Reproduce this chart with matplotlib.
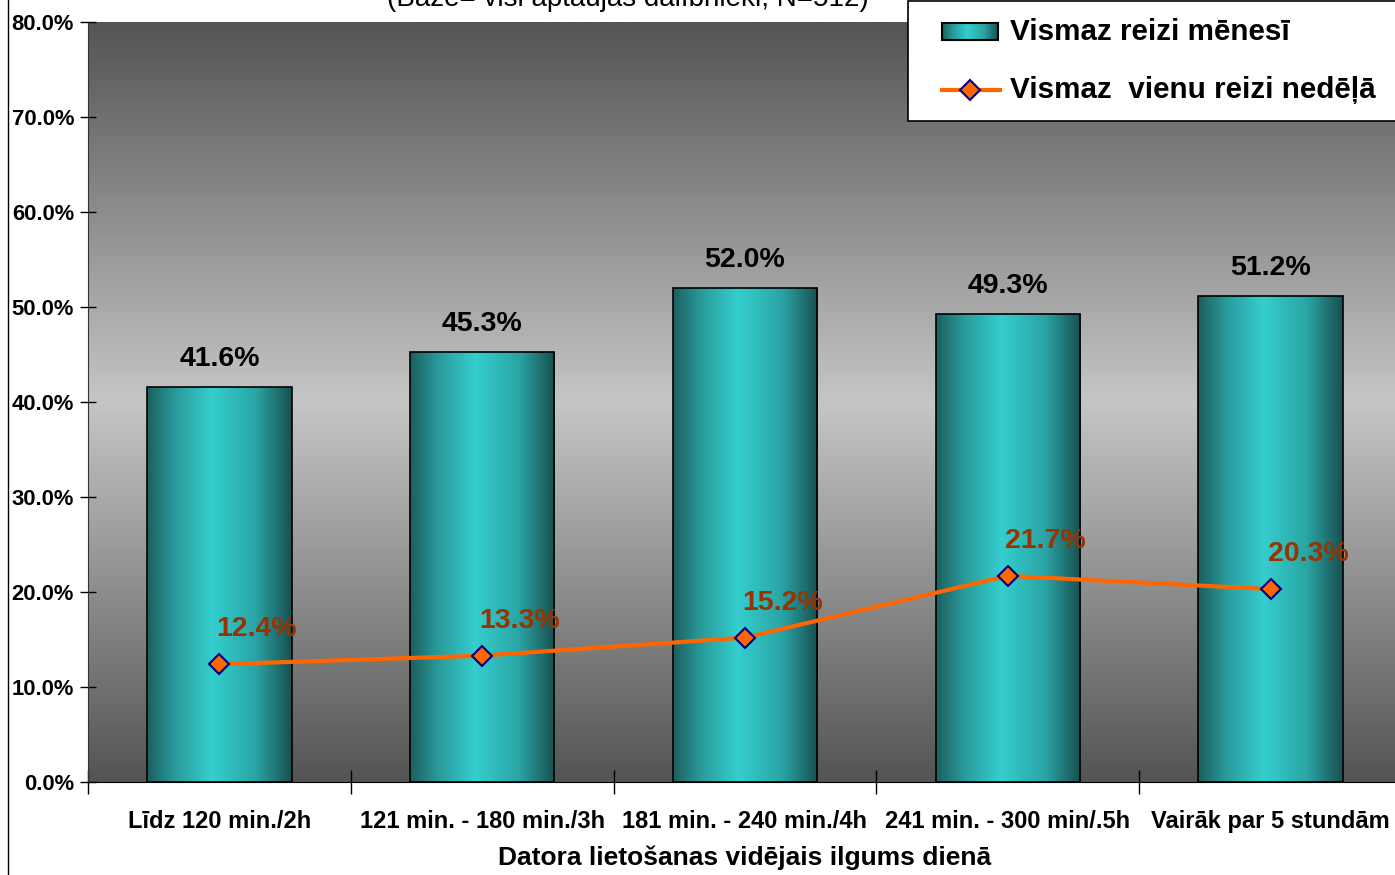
import numpy as np
import matplotlib
matplotlib.use("Agg")
import matplotlib.pyplot as plt
from matplotlib.colors import LinearSegmentedColormap
from matplotlib.patches import Rectangle
from matplotlib.lines import Line2D

plt.rcParams['font.family'] = ['Liberation Sans', 'DejaVu Sans']

categories = ["Līdz 120 min./2h", "121 min. - 180 min./3h", "181 min. - 240 min./4h",
              "241 min. - 300 min/.5h", "Vairāk par 5 stundām"]
monthly = [41.6, 45.3, 52.0, 49.3, 51.2]
weekly = [12.4, 13.3, 15.2, 21.7, 20.3]
yticks = [0, 10, 20, 30, 40, 50, 60, 70, 80]
label_monthly = "Vismaz reizi mēnesī"
label_weekly = "Vismaz  vienu reizi nedēļā"
title = "(Bāze= visi aptaujas dalībnieki, N=512)"
xlabel = "Datora lietošanas vidējais ilgums dienā"

W, H = 1395, 875
fig = plt.figure(figsize=(W / 100, H / 100), dpi=100)
fig.patch.set_facecolor("white")

# plot area in pixels: x 88..1402, y 22..782
ax = fig.add_axes([88 / W, (H - 782) / H, (1402 - 88) / W, (782 - 22) / H])
x = np.arange(len(categories))

# grey background gradient (dark - light - dark)
bg_cmap = LinearSegmentedColormap.from_list(
    "bg", [(0.0, "#545454"), (0.5, "#c6c6c6"), (1.0, "#545454")])
ax.imshow(np.linspace(0, 1, 256).reshape(-1, 1), extent=[-0.5, 4.5, 0, 80],
          aspect="auto", cmap=bg_cmap, zorder=0, interpolation="bilinear")

# bars with horizontal teal gradient
bar_cmap = LinearSegmentedColormap.from_list(
    "bar", [(0.0, "#1d5f5f"), (0.2, "#2a9c9c"), (0.45, "#35cece"),
            (0.75, "#2aa5a5"), (1.0, "#185050")])
grad = np.linspace(0, 1, 256).reshape(1, -1)
bars = ax.bar(x, monthly, width=0.55, facecolor="none", edgecolor="black",
              linewidth=1.2, zorder=3)
for b in bars:
    im = ax.imshow(grad, extent=[b.get_x(), b.get_x() + b.get_width(), 0, b.get_height()],
                   aspect="auto", cmap=bar_cmap, zorder=2, interpolation="bilinear")
    im.set_clip_path(b)

for xi, v in zip(x, monthly):
    ax.annotate(f"{v:.1f}%", (xi, v), xytext=(0, 20), textcoords="offset points",
                ha="center", va="center", fontsize=20.5, fontweight="bold", color="black")

ax.plot(x, weekly, color="#ff6600", linewidth=3, marker="D", markersize=10.5,
        markerfacecolor="#ff6600", markeredgecolor="#000080", markeredgewidth=1.5, zorder=4)
for xi, v in zip(x, weekly):
    ax.annotate(f"{v:.1f}%", (xi, v), xytext=(27, 25), textcoords="offset points",
                ha="center", va="center", fontsize=20.5, fontweight="bold", color="#993300",
                zorder=5)

ax.set_xlim(-0.5, 4.5)
ax.set_ylim(0, 80)
ax.set_yticks(yticks)
ax.set_yticklabels([f"{t:.1f}%" for t in yticks], fontsize=15.8, fontweight="bold")
ax.tick_params(axis="y", direction="inout", length=12, width=1, pad=4)
ax.set_xticks(x)
ax.set_xticklabels(categories, fontsize=17, fontweight="bold")
ax.set_xticks(np.arange(-0.5, 5.0, 1.0), minor=True)
ax.tick_params(axis="x", which="major", length=0, pad=20)
ax.tick_params(axis="x", which="minor", direction="inout", length=17, width=1)
for s in ("top", "right"):
    ax.spines[s].set_visible(False)
ax.spines["left"].set_color("#333333")
ax.spines["bottom"].set_color("black")
ax.set_xlabel(xlabel, fontsize=19, fontweight="bold")
ax.xaxis.set_label_coords(0.5, (782 - 858) / 760)
ax.xaxis.label.set_va("center")

# overlay in pixel coordinates for legend, title and border
ov = fig.add_axes([0, 0, 1, 1], zorder=10)
ov.set_xlim(0, W)
ov.set_ylim(H, 0)
ov.axis("off")
ov.add_line(Line2D([8, 8], [0, H], color="black", linewidth=1))
ov.text(628, 6, title, ha="center", va="baseline", fontsize=20)

ov.add_patch(Rectangle((908, 0.5), 500, 120, facecolor="white", edgecolor="black", linewidth=1.2))
legend_patch = Rectangle((942, 23), 56, 17, facecolor="none", edgecolor="black", linewidth=1.5, zorder=3)
ov.add_patch(legend_patch)
lim = ov.imshow(grad, extent=[942, 998, 40, 23], aspect="auto", cmap=bar_cmap, zorder=2)
lim.set_clip_path(legend_patch)
ov.add_line(Line2D([942, 1000], [90, 90], color="#ff6600", linewidth=3))
ov.add_line(Line2D([970], [90], marker="D", markersize=10.5, markerfacecolor="#ff6600",
                   markeredgecolor="#000080", markeredgewidth=1.5))
ov.text(1010, 32, label_monthly, ha="left", va="center", fontsize=21.3, fontweight="bold")
ov.text(1010, 90, label_weekly, ha="left", va="center", fontsize=21.3, fontweight="bold")
ov.set_xlim(0, W)
ov.set_ylim(H, 0)

fig.savefig("out.png", dpi=100)
